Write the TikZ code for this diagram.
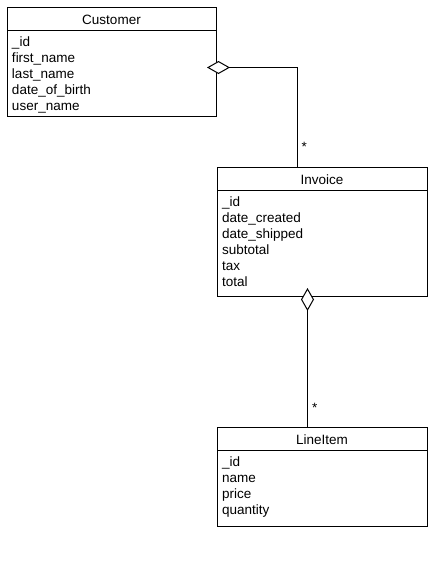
\documentclass[tikz,border=0pt]{standalone}
\usepackage{fontspec}
\setmainfont{Liberation Sans}
\usetikzlibrary{positioning, arrows.meta}

\tikzset{
	classname/.style={draw, line width=1pt, outer sep=0pt, inner sep=0pt,
		minimum height=23pt, text height=12pt, text depth=0pt, anchor=north west},
	classattr/.style={draw, line width=1pt, outer sep=0pt, inner xsep=5pt,
		inner ysep=6.5pt, text height=9.5pt, align=left},
	aggregation/.style={{Diamond[fill=white,length=23pt,width=13pt]}-, line width=1pt},
	multiplicity/.style={anchor=west, inner sep=0pt, xshift=4pt}
}

\begin{document}
\begin{tikzpicture}[x=1pt, y=-1pt, font=\fontsize{13.5}{16}\selectfont]
			\useasboundingbox (0,0) rectangle (441,568);
			
			% Customer
			\node [classname,
				minimum width=209pt
				] (cust) at (7,7) {Customer};
			\node [classattr,
				text width=199pt,
				text depth=63.5pt,
				below=0pt of cust
				] (custattr) {\_id\\first\_name\\last\_name\\date\_of\_birth\\user\_name};
			
			% Invoice
			\node [classname,
				minimum width=210pt
				] (inv) at (217,167) {Invoice};
			\node [classattr,
				text width=200pt,
				text depth=83.5pt,
				below=0pt of inv
				] (invattr) {\_id\\date\_created\\date\_shipped\\subtotal\\tax\\total};
			
			% LineItem
			\node [classname,
				minimum width=210pt
				] (item) at (217,427) {LineItem};
			\node [classattr,
				text width=200pt,
				text depth=53.5pt,
				below=0pt of item
				] (itemattr) {\_id\\name\\price\\quantity};
			
			% Aggregations
			\draw[aggregation] ([xshift=-9pt,yshift=5.5pt]custattr.east) -| ([xshift=-25pt]inv.north)
				node[multiplicity, pos=0.9]{*};
			\draw[aggregation] ([xshift=-14.5pt,yshift=8pt]invattr.south) -- ([xshift=-14.5pt]item.north)
				node[multiplicity, pos=0.86]{*};
		
		\end{tikzpicture}
\end{document}
